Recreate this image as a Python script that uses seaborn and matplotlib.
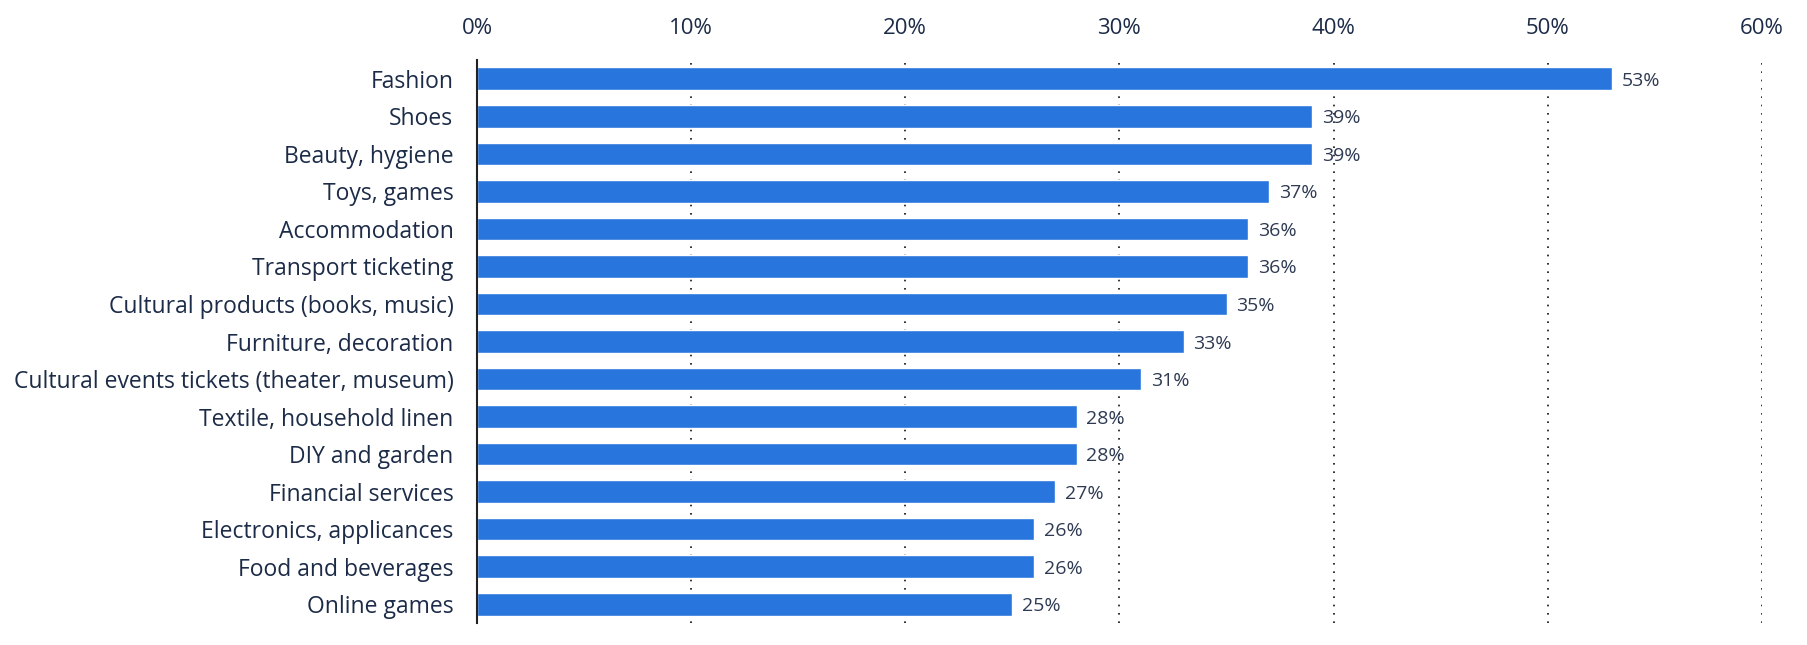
import matplotlib
matplotlib.use('Agg')
import matplotlib.pyplot as plt
import pandas as pd
import seaborn as sns
from matplotlib.ticker import FuncFormatter

# Share of respondents per product category
categories = ['Fashion', 'Shoes', 'Beauty, hygiene', 'Toys, games', 'Accommodation',
              'Transport ticketing', 'Cultural products (books, music)',
              'Furniture, decoration', 'Cultural events tickets (theater, museum)',
              'Textile, household linen', 'DIY and garden', 'Financial services',
              'Electronics, applicances', 'Food and beverages', 'Online games']
shares = [53, 39, 39, 37, 36, 36, 35, 33, 31, 28, 28, 27, 26, 26, 25]
ticks = [0, 10, 20, 30, 40, 50, 60]

df = pd.DataFrame({'category': categories, 'share': shares})

sns.set_style('white')
plt.rcParams['font.family'] = ['Open Sans', 'DejaVu Sans']

text_col = '#1c2b47'
fig, ax = plt.subplots(figsize=(18.07, 6.45), dpi=100)
fig.subplots_adjust(left=0.264, right=0.975, top=0.907, bottom=0.034)

sns.barplot(data=df, x='share', y='category', orient='h', color='#2876dd',
            width=0.6, saturation=1, ax=ax, zorder=3)

ax.set_xlim(0, 60)
ax.set_xticks(ticks)
ax.xaxis.set_major_formatter(FuncFormatter(lambda v, p: f'{v:.0f}%'))
ax.xaxis.tick_top()
ax.tick_params(axis='x', length=0, pad=15, labelsize=16, labelcolor=text_col)
ax.tick_params(axis='y', length=0, pad=17, labelsize=16.5, labelcolor=text_col)
ax.set_xlabel('')
ax.set_ylabel('')

for t in ticks[1:]:
    ax.axvline(t, color='#111111', linestyle=(0, (1, 4)), linewidth=1.2, zorder=1)

for s in ['top', 'right', 'bottom']:
    ax.spines[s].set_visible(False)
ax.spines['left'].set_color('#222222')
ax.spines['left'].set_linewidth(1.5)
ax.spines['left'].set_zorder(4)

labels = ax.bar_label(ax.containers[0], labels=[f'{v}%' for v in shares], padding=7,
                      fontsize=14, color='#2e3a52')
for lab in labels:
    lab.set_va('center_baseline')

fig.savefig('out.png', dpi=100)
